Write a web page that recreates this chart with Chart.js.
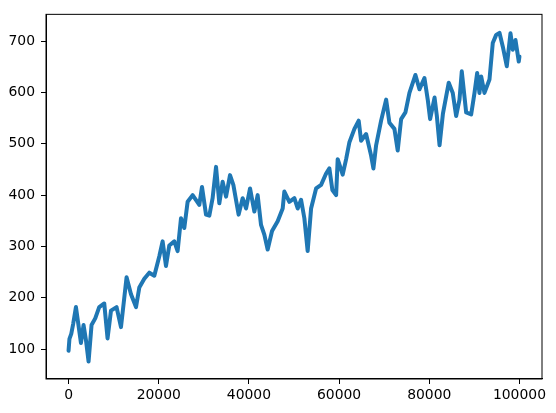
<!DOCTYPE html>
<html>
<head>
<meta charset="utf-8">
<script src="https://cdn.jsdelivr.net/npm/chart.js@4"></script>
<style>
    html, body { margin: 0; padding: 0; background: #fff; }
    #wrap { width: 556px; height: 413px; }
</style>
</head>
<body>
<div id="wrap"><canvas id="chartLine" width="556" height="413"></canvas></div>
<script>
// step index and walk value
const steps = [
    0, 200, 600, 1040, 1640, 2150, 2750, 3330, 3860, 4440,
    5100, 5920, 6800, 7920, 8650, 9410, 10650, 11630, 12870, 13850,
    14960, 15690, 16800, 17910, 19020, 20130, 20860, 21610, 22340, 23450,
    24190, 24940, 25670, 26410, 27520, 29000, 29600, 30490, 31220, 31950,
    32710, 33440, 34170, 34930, 35810, 36550, 37720, 38610, 39370, 40250,
    41210, 41940, 42690, 43420, 44160, 45130, 46380, 47490, 47860, 48970,
    50080, 50820, 51570, 52300, 53030, 53790, 54900, 56010, 57120, 57850,
    58510, 59340, 59690, 60800, 61560, 62290, 63400, 64350, 64880, 65990,
    67100, 67610, 68210, 69320, 70430, 71160, 72270, 73000, 73760, 74710,
    75600, 76930, 77820, 78930, 79660, 80190, 81170, 81680, 82280, 83020,
    84320, 85210, 85960, 86700, 87210, 88180, 89290, 90030, 90620, 91130,
    91510, 92240, 93350, 94080, 94840, 95570, 96310, 97190, 98010, 98520,
    99120, 99850, 99999
];
const walk = [
    97, 120, 130, 150, 182, 150, 112, 147, 118, 76,
    147, 160, 182, 189, 121, 175, 182, 143, 240, 207,
    182, 220, 237, 249, 243, 281, 310, 262, 302, 310,
    291, 355, 336, 387, 400, 381, 416, 362, 360, 394,
    455, 384, 426, 397, 439, 420, 362, 394, 374, 413,
    368, 400, 342, 323, 294, 330, 349, 374, 407, 387,
    394, 374, 391, 355, 291, 374, 413, 420, 442, 452,
    410, 400, 470, 440, 470, 503, 529, 545, 506, 519,
    477, 452, 497, 545, 586, 541, 529, 487, 548, 561,
    599, 634, 606, 628, 586, 548, 590, 554, 497, 558,
    619, 599, 554, 586, 641, 561, 557, 599, 638, 599,
    631, 599, 625, 696, 712, 716, 689, 651, 715, 683,
    702, 660, 670
];
const xTicks = [0, 20000, 40000, 60000, 80000, 100000];
const yTicks = [100, 200, 300, 400, 500, 600, 700];

const tickFont = { family: "'DejaVu Sans'", size: 13.9 };

// matplotlib-style box around the axes
const frame = {
    id: 'frame',
    afterDraw(chart) {
        const { ctx, chartArea: a } = chart;
        ctx.save();
        ctx.strokeStyle = '#000';
        ctx.lineWidth = 1;
        ctx.strokeRect(a.left, a.top, a.right - a.left, a.bottom - a.top);
        ctx.restore();
    }
};

const data = {
    datasets: [
        {
            data: steps.map((s, i) => ({ x: s, y: walk[i] })),
            borderColor: '#1f77b4',
            borderWidth: 4,
            borderJoinStyle: 'round',
            borderCapStyle: 'round',
            showLine: true,
            fill: false,
            pointRadius: 0,
            tension: 0,
        }
    ]
};

const config = {
    type: 'scatter',
    data,
    options: {
        responsive: false,
        animation: false,
        devicePixelRatio: 1,
        layout: { padding: { top: 11, right: 14, left: 0, bottom: 0 } },
        scales: {
            x: {
                type: 'linear',
                min: -5000,
                max: 105000,
                afterBuildTicks: axis => { axis.ticks = xTicks.map(v => ({ value: v })); },
                afterFit: scale => { scale.height = 34; },
                grid: { drawOnChartArea: false, drawTicks: true, tickLength: 5, color: '#000' },
                border: { display: true, color: '#000' },
                ticks: { color: '#000', font: tickFont, padding: 3, maxRotation: 0, callback: v => String(v) }
            },
            y: {
                min: 42,
                max: 752,
                afterBuildTicks: axis => { axis.ticks = yTicks.map(v => ({ value: v })); },
                afterFit: scale => { scale.width = 46; },
                grid: { drawOnChartArea: false, drawTicks: true, tickLength: 5, color: '#000' },
                border: { display: true, color: '#000' },
                ticks: { color: '#000', font: tickFont, padding: 6, callback: v => String(v) }
            }
        },
        plugins: {
            legend: { display: false },
            tooltip: { enabled: false }
        }
    },
    plugins: [frame]
};

var chartLine = new Chart(document.getElementById('chartLine'), config);
</script>
</body>
</html>
